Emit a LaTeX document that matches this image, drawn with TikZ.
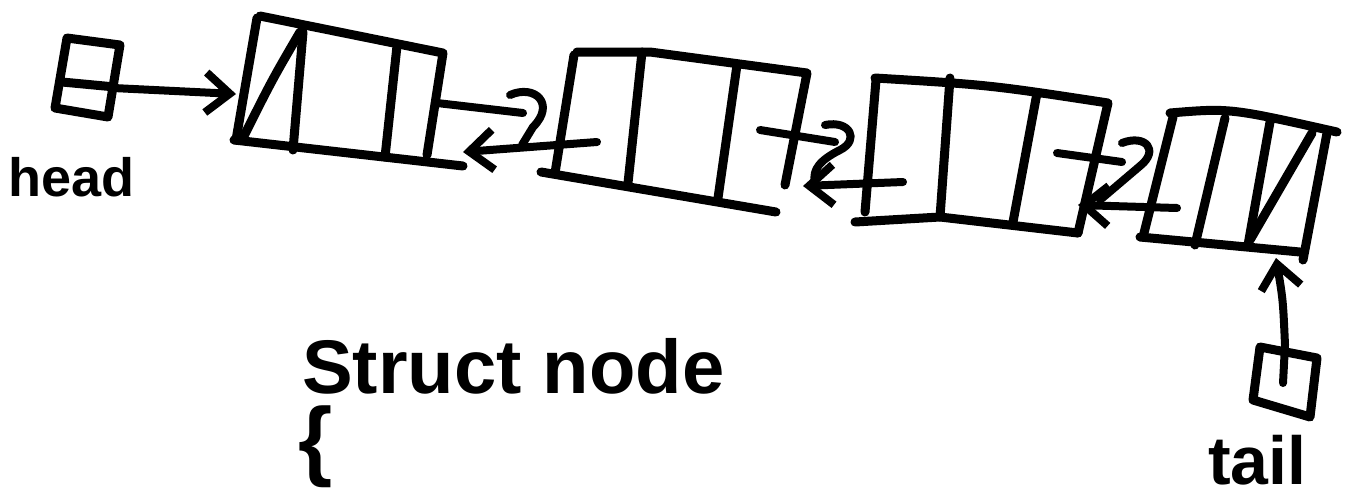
\documentclass[tikz,border=0pt]{standalone}
\usepackage{fontspec}
\setmainfont{Liberation Sans}
\usetikzlibrary{arrows.meta}
\tikzset{
  ink/.style={line width=9pt, line cap=round, line join=round},
  thin ink/.style={line width=8pt, line cap=round, line join=round},
  barb/.style={thin ink, -{Straight Barb[length=24pt,width=40pt]}},
  label/.style={inner sep=0pt, font=\bfseries\fontsize{54}{60}\selectfont}
}
\begin{document}
\begin{tikzpicture}[x=1pt,y=-1pt]
\useasboundingbox[fill=white] (0,0) rectangle (1351,496);

% head box
\draw[ink] (67,38) -- (120,45) -- (108,117) -- (55,108) -- cycle;
\draw[ink] (62,82) -- (115,87);
\node[label, anchor=base west] (headlbl) at (8,196) {head};

% node 1
\draw[ink] (260,16) -- (443,53) -- (427,155);
\draw[ink] (257,18) -- (236,140);
\draw[ink] (234,140) -- (463,166);
\draw[ink] (303,32) -- (293,150);
\draw[ink] (397,46) -- (385,157);
\draw[ink] (300,32) .. controls (272,80) .. (243,138);

% node 2
\draw[ink] (577,52) -- (650,52) -- (807,73) -- (785,185);
\draw[ink] (574,55) -- (555,173);
\draw[ink] (541,172) -- (776,212);
\draw[ink] (642,52) -- (628,183);
\draw[ink] (737,65) -- (718,198);

% node 3
\draw[ink] (875,78) .. controls (990,85) .. (1108,103) -- (1078,233);
\draw[ink] (876,80) -- (865,212);
\draw[ink] (855,222) -- (940,217) -- (1078,233);
\draw[ink] (950,78) -- (940,217);
\draw[ink] (1037,93) -- (1013,222);

% node 4
\draw[ink] (1170,113) .. controls (1230,108) .. (1337,132);
\draw[ink] (1173,117) -- (1143,237);
\draw[ink] (1140,237) -- (1300,252);
\draw[ink] (1327,133) -- (1303,260);
\draw[ink] (1225,118) -- (1195,245);
\draw[ink] (1270,122) -- (1248,245);
\draw[ink] (1312,133) -- (1250,240);

% tail box
\draw[ink] (1260,347) -- (1317,358) -- (1310,417) -- (1253,400) -- cycle;
\node[label, font=\bfseries\fontsize{68}{76}\selectfont, anchor=base west] (taillbl) at (1208,484) {tail};

% pointer end points
\coordinate (headptr) at (113,88);
\coordinate (n1left) at (236,94);
\coordinate (n1next) at (437,103);
\coordinate (n1hook) at (523,113);
\coordinate (n2prev) at (597,142);
\coordinate (n1right) at (463,152);
\coordinate (n2next) at (760,130);
\coordinate (n2hook) at (835,142);
\coordinate (n3prev) at (903,182);
\coordinate (n2right) at (803,186);
\coordinate (n3next) at (1057,153);
\coordinate (n3hook) at (1122,162);
\coordinate (n4prev) at (1177,208);
\coordinate (n3right) at (1078,205);
\coordinate (tailptr) at (1283,383);
\coordinate (n4bot) at (1276,258);

% head pointer
\draw[barb] (headptr) -- (n1left);

% next pointers with hooked tips
\draw[thin ink] (n1next) -- (n1hook);
\draw[thin ink] (510,95) .. controls (535,84) and (556,104) .. (533,127) -- (522,145);
\draw[thin ink] (n2next) -- (n2hook);
\draw[thin ink] (825,125) .. controls (850,120) and (860,140) .. (840,150) .. controls (820,160) and (812,170) .. (815,182);
\draw[thin ink] (n3next) -- (n3hook);
\draw[thin ink] (1122,143) .. controls (1145,134) and (1160,150) .. (1140,166) -- (1100,200);

% prev pointers
\draw[barb] (n2prev) -- (n1right);
\draw[barb] (n3prev) -- (n2right);
\draw[barb] (n4prev) -- (n3right);

% tail pointer
\draw[barb] (tailptr) -- (1285,345) .. controls (1283,300) .. (n4bot);

% struct node text
\node[label, font=\bfseries\fontsize{76}{84}\selectfont, anchor=base west] (structlbl) at (302,393) {Struct node};
\node[inner sep=0pt, font=\bfseries\fontsize{88}{96}\selectfont, anchor=north west] (brace) at (298,406) {\{};
\end{tikzpicture}
\end{document}
